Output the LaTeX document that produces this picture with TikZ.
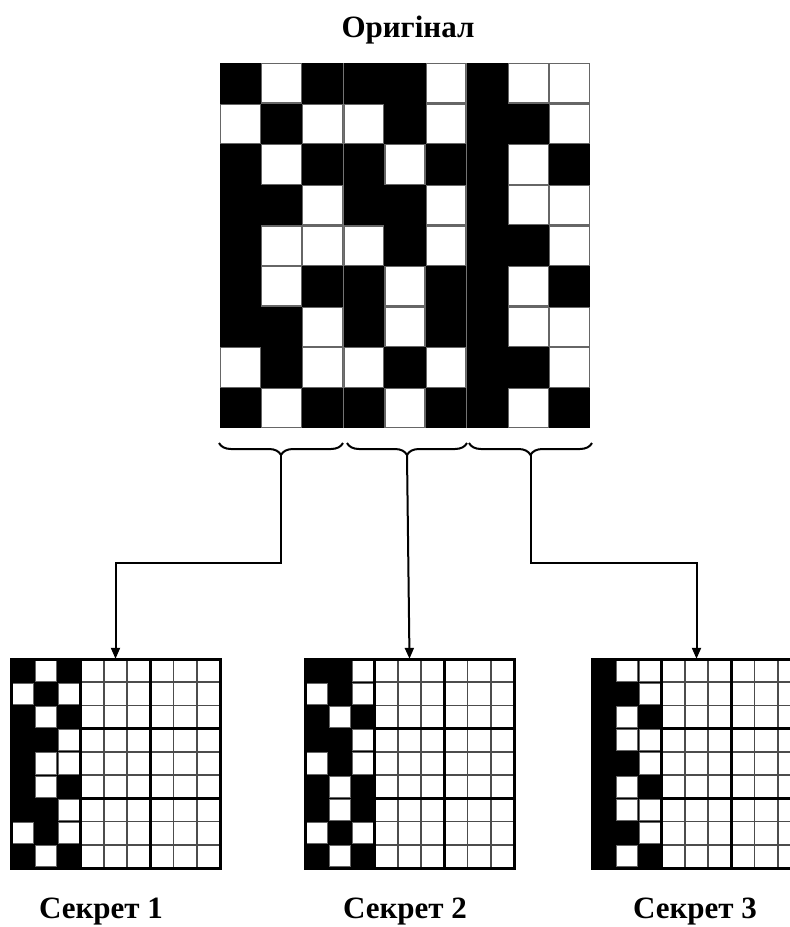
\documentclass[tikz,border=0pt]{standalone}
\usepackage{fontspec}
\setmainfont{Liberation Serif}
\usetikzlibrary{arrows.meta,decorations.pathreplacing}

\newcommand{\origrows}{{1,0,1,1,1,0,1,0,0},{0,1,0,0,1,0,1,1,0},{1,0,1,1,0,1,1,0,1},{1,1,0,1,1,0,1,0,0},{1,0,0,0,1,0,1,1,0},{1,0,1,1,0,1,1,0,1},{1,1,0,1,0,1,1,0,0},{0,1,0,0,1,0,1,1,0},{1,0,1,1,0,1,1,0,1}}

\begin{document}
\begin{tikzpicture}[x=1pt,y=-1pt,
  whitecell/.style={fill=white, draw=black!60, line width=1.2pt},
  thinline/.style={draw=black!70, line width=1.8pt},
  thickline/.style={draw=black, line width=3pt},
  bracket/.style={draw, line width=2pt, decorate, decoration={brace, mirror, amplitude=12pt}},
  link/.style={draw, line width=2pt, -{Triangle[width=9pt,length=11pt]}},
  caption/.style={font=\bfseries\fontsize{31}{36}\selectfont, anchor=base, inner sep=0pt}]
\useasboundingbox (0,0) rectangle (790,927);
\clip (0,0) rectangle (790,927);

\node[caption] (orig) at (408,37) {Оригінал};

\fill (220,63) rectangle (590,428);
\foreach \row [count=\r] in \origrows {
  \foreach \c [count=\k] in \row {
    \ifnum\c=0
      \path[whitecell] ({220+(\k-1)*41.1+0.6},{63+(\r-1)*40.6+0.6}) rectangle ++(39.9,39.4);
    \fi
  }
}
\draw[black!55, line width=1pt] (343.3,63) -- (343.3,428) (466.7,63) -- (466.7,428);

\draw[bracket] (219,443) -- (343,443);
\draw[bracket] (347,443) -- (467,443);
\draw[bracket] (469,443) -- (592,443);
\coordinate (t1) at (281,455);
\coordinate (t2) at (407,455);
\coordinate (t3) at (530.5,455);

\foreach \n/\L in {1/11, 2/305, 3/592} {
  \node[minimum size=209pt, inner sep=0pt] (sec\n) at ({\L+104.5},763.5) {};
  \fill[black] (\L,659) rectangle ++(69.6,209);
  \fill[white] ({\L+69.6},659) rectangle ++(139.4,209);
  \foreach \row [count=\r] in \origrows {
    \foreach \c [count=\k] in \row {
      \pgfmathtruncatemacro{\g}{int((\k-1)/3)+1}
      \ifnum\g=\n \ifnum\c=0
        \path[whitecell] ({\L+(\k-3*\n+2)*23.22+1},{659+(\r-1)*23.22+1}) rectangle ++(21.22,21.22);
      \fi\fi
    }
  }
  \foreach \j in {4,5,7,8}
    \draw[thinline] ({\L+\j*23.22},659) -- ++(0,209);
  \foreach \i in {1,2,4,5,7,8}
    \draw[thinline] ({\L+69.6},{659+\i*23.22}) -- ({\L+209},{659+\i*23.22});
  \foreach \j in {3,6}
    \draw[thickline] ({\L+\j*23.22},659) -- ++(0,209);
  \foreach \i in {3,6}
    \draw[thickline] ({\L+69.6},{659+\i*23.22}) -- ({\L+209},{659+\i*23.22});
  \draw[thickline] (\L,659) rectangle ++(209,209);
}

\coordinate (k1) at (281,563);
\coordinate (k3) at (530.5,563);
\draw[link] (t1) -- (k1) -| (sec1.north);
\draw[link] (t2) -- (sec2.north);
\draw[link] (t3) -- (k3) -| (sec3.north);

\node[caption] (lab1) at (101,918) {Секрет 1};
\node[caption] (lab2) at (405,918) {Секрет 2};
\node[caption] (lab3) at (695,918) {Секрет 3};
\end{tikzpicture}
\end{document}
